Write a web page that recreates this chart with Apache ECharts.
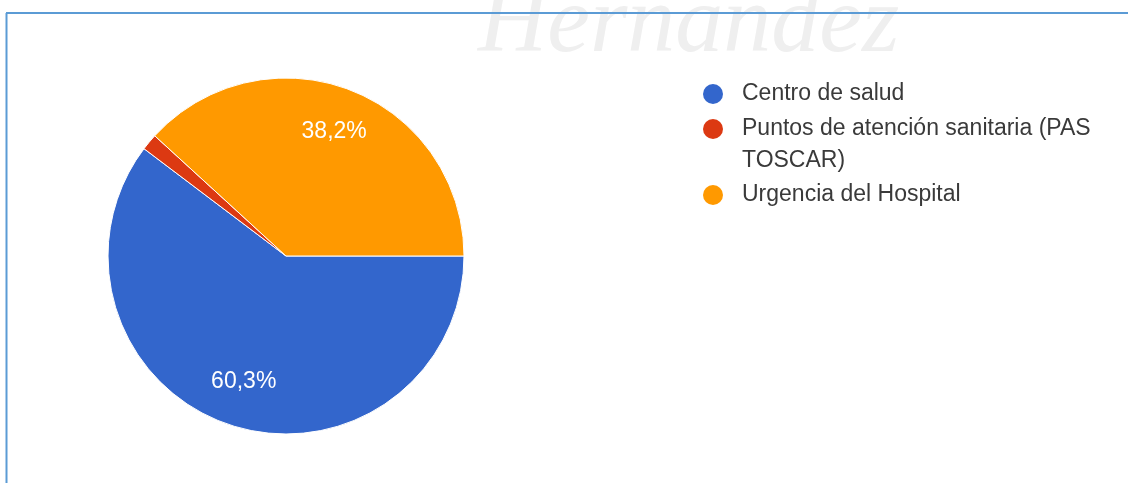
<!DOCTYPE html>
<html>
<head>
<meta charset="utf-8">
<script src="https://cdn.jsdelivr.net/npm/echarts@6/dist/echarts.min.js"></script>
<style>
html,body{margin:0;padding:0;background:#fff;}
#chart{width:1128px;height:483px;}
</style>
</head>
<body>
<div id="chart"></div>
<script>
const categories = ['Centro de salud', 'Puntos de atención sanitaria (PAS TOSCAR)', 'Urgencia del Hospital'];
const legendLabels = ['Centro de salud', '\nPuntos de atención sanitaria (PAS\nTOSCAR)', 'Urgencia del Hospital'];
const values = [60.3, 1.5, 38.2];
const colors = ['#3366cc', '#dc3912', '#ff9900'];

const data = categories.map((c, i) => ({ name: c, value: values[i], itemStyle: { color: colors[i] } }));
const labelData = categories.map((c, i) => ({ name: c, value: values[i] }));

const font = '"Liberation Sans", Arial, sans-serif';
const R = 178;
const legendText = { fontFamily: font, fontSize: 23, color: '#3a3a3a', lineHeight: 32, padding: [0, 0, 0, 14] };
const legendBase = {
  orient: 'vertical', left: 703, padding: 0, itemWidth: 20, itemHeight: 20,
  icon: 'circle', selectedMode: false,
  itemStyle: { borderWidth: 0 },
  textStyle: legendText,
  formatter: name => legendLabels[categories.indexOf(name)]
};

const chart = echarts.init(document.getElementById('chart'));
chart.setOption({
  backgroundColor: '#ffffff',
  animation: false,
  graphic: [
    { type: 'text', left: 478, top: -22, silent: true, z: -10,
      style: { text: 'Hernández', font: 'italic 96px "Liberation Serif", serif', fill: '#efefef' } },
    { type: 'line', silent: true, shape: { x1: 6, y1: 13, x2: 1128, y2: 13 }, style: { stroke: '#5b9bd5', lineWidth: 2 } },
    { type: 'line', silent: true, shape: { x1: 6.5, y1: 13, x2: 6.5, y2: 483 }, style: { stroke: '#5b9bd5', lineWidth: 2 } }
  ],
  legend: [
    Object.assign({}, legendBase, { top: 78, data: [categories[0]] }),
    Object.assign({}, legendBase, { top: 81, data: [categories[1]] }),
    Object.assign({}, legendBase, { top: 179, data: [categories[2]] })
  ],
  series: [
    {
      type: 'pie', center: [286, 256], radius: [0, R], startAngle: 0, clockwise: true,
      avoidLabelOverlap: false, silent: true,
      itemStyle: { borderColor: '#ffffff', borderWidth: 1 },
      label: { show: false }, labelLine: { show: false },
      data: data
    },
    {
      type: 'pie', center: [286, 256], radius: [R * 0.46, R], startAngle: 0, clockwise: true,
      avoidLabelOverlap: false, silent: true, z: 5,
      itemStyle: { color: 'rgba(0,0,0,0)', borderWidth: 0 },
      label: {
        show: true, position: 'inside', color: '#ffffff', fontFamily: font, fontSize: 23,
        formatter: p => p.value > 5 ? p.value.toFixed(1).replace('.', ',') + '%' : ''
      },
      labelLine: { show: false },
      data: labelData
    }
  ]
});
</script>
</body>
</html>
